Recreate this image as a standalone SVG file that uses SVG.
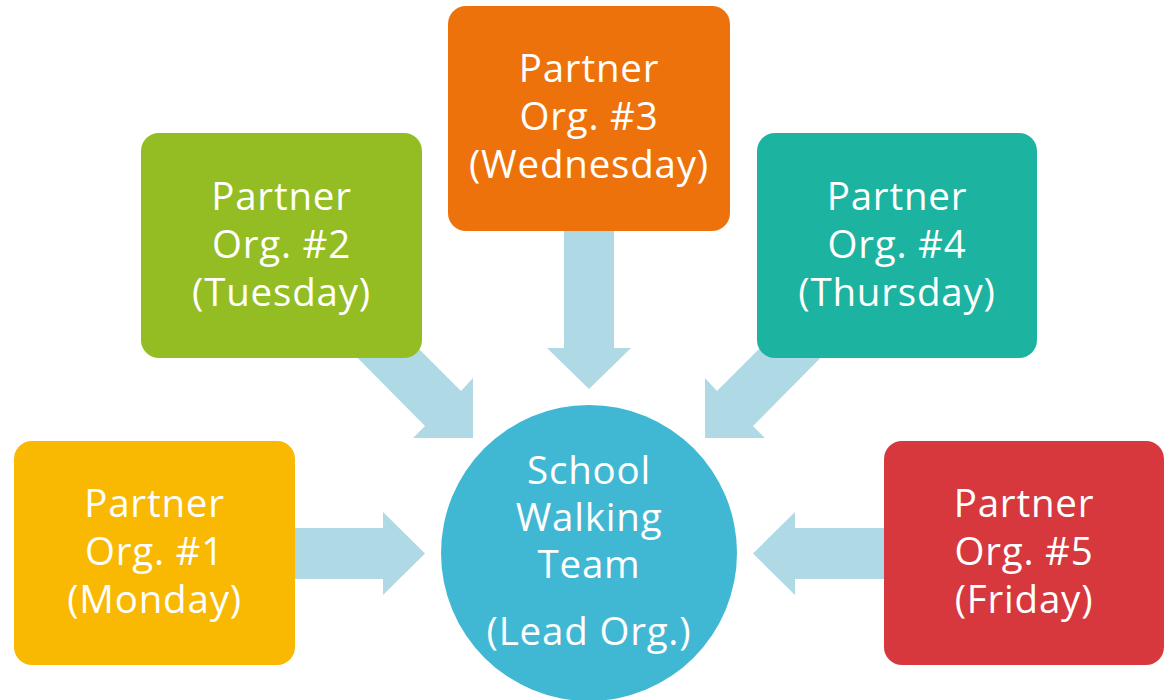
<svg xmlns="http://www.w3.org/2000/svg" width="1166" height="700" viewBox="0 0 1166 700">
<style>
.arrow{fill:#AFD9E5;}
.lbl{font-family:"Open Sans","Liberation Sans",sans-serif;font-size:38.5px;letter-spacing:0.8px;fill:#FFFFFF;text-anchor:middle;}
</style>
<rect width="1166" height="700" fill="#FFFFFF"/>
<g id="connectors">
<polygon class="arrow" points="290,528 383,528 383,512 425,553.5 383,595 383,579 290,579"/>
<polygon class="arrow" points="330,330 365,295 461,391 473,378 473,438 413,438 425,426"/>
<polygon class="arrow" points="564,225 614,225 614,348 631,348 589,389 547,348 564,348"/>
<polygon class="arrow" points="848,330 813,295 717,391 705,378 705,438 765,438 753,426"/>
<polygon class="arrow" points="888,528 795,528 795,512 753,553.5 795,595 795,579 888,579"/>
</g>
<g id="node1">
<rect x="14" y="441" width="281" height="224" rx="18" fill="#F9B801"/>
<text class="lbl" x="154.5" y="517">Partner</text>
<text class="lbl" x="154.5" y="565">Org. #1</text>
<text class="lbl" x="154.5" y="613">(Monday)</text>
</g>
<g id="node2">
<rect x="141" y="133" width="281" height="225" rx="18" fill="#93BD23"/>
<text class="lbl" x="281.5" y="210">Partner</text>
<text class="lbl" x="281.5" y="258">Org. #2</text>
<text class="lbl" x="281.5" y="306">(Tuesday)</text>
</g>
<g id="node3">
<rect x="448" y="6" width="282" height="225" rx="18" fill="#EE720C"/>
<text class="lbl" x="589" y="82">Partner</text>
<text class="lbl" x="589" y="130">Org. #3</text>
<text class="lbl" x="589" y="178">(Wednesday)</text>
</g>
<g id="node4">
<rect x="757" y="133" width="280" height="225" rx="18" fill="#1CB3A0"/>
<text class="lbl" x="897" y="210">Partner</text>
<text class="lbl" x="897" y="258">Org. #4</text>
<text class="lbl" x="897" y="306">(Thursday)</text>
</g>
<g id="node5">
<rect x="884" y="441" width="280" height="224" rx="18" fill="#D6383D"/>
<text class="lbl" x="1024" y="517">Partner</text>
<text class="lbl" x="1024" y="565">Org. #5</text>
<text class="lbl" x="1024" y="613">(Friday)</text>
</g>
<g id="center">
<circle cx="589" cy="553" r="148" fill="#41B8D3"/>
<text class="lbl" x="589" y="484">School</text>
<text class="lbl" x="589" y="531">Walking</text>
<text class="lbl" x="589" y="578">Team</text>
<text class="lbl" x="589" y="645">(Lead Org.)</text>
</g>
</svg>
